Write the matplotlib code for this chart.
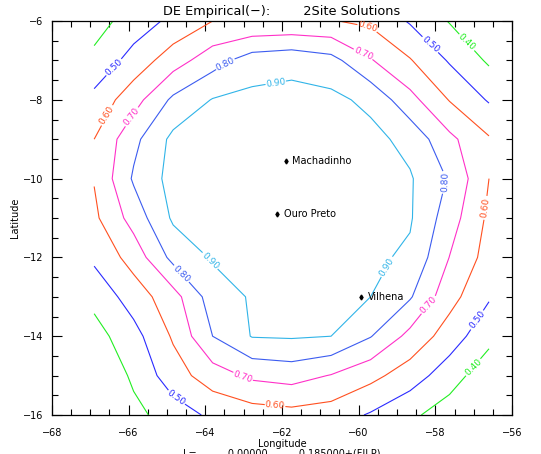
import numpy as np
import matplotlib
matplotlib.use('Agg')
import matplotlib.pyplot as plt
from matplotlib.ticker import MultipleLocator

# grid of the solution field
lons = np.linspace(-66.9, -56.6, 11)
lats = [-6, -7, -8, -9, -10, -11, -12, -13, -14, -15, -16]
values = [
    [0.36, 0.444, 0.525, 0.600, 0.605, 0.610, 0.605, 0.580, 0.490, 0.394, 0.330],
    [0.424, 0.540, 0.653, 0.758, 0.850, 0.870, 0.835, 0.708, 0.607, 0.490, 0.385],
    [0.530, 0.660, 0.820, 0.905, 0.925, 0.930, 0.925, 0.876, 0.733, 0.595, 0.490],
    [0.600, 0.773, 0.925, 0.935, 0.940, 0.945, 0.940, 0.930, 0.869, 0.724, 0.610],
    [0.605, 0.813, 0.935, 0.940, 0.950, 0.950, 0.945, 0.935, 0.910, 0.790, 0.600],
    [0.580, 0.740, 0.915, 0.930, 0.945, 0.950, 0.945, 0.935, 0.910, 0.747, 0.580],
    [0.520, 0.640, 0.830, 0.910, 0.930, 0.935, 0.930, 0.920, 0.883, 0.698, 0.560],
    [0.430, 0.547, 0.660, 0.850, 0.910, 0.920, 0.915, 0.900, 0.810, 0.636, 0.510],
    [0.360, 0.465, 0.612, 0.800, 0.905, 0.910, 0.900, 0.805, 0.671, 0.552, 0.430],
    [0.290, 0.420, 0.555, 0.652, 0.720, 0.740, 0.695, 0.629, 0.550, 0.446, 0.336],
    [0.270, 0.370, 0.450, 0.520, 0.550, 0.565, 0.550, 0.490, 0.420, 0.350, 0.290],
]
levels = [0.40, 0.50, 0.60, 0.70, 0.80, 0.90]
level_colors = ['#22ee22', '#2a2aff', '#ff5020', '#ff30c8', '#3c5cf0', '#30b4e8']

stations = ['Machadinho', 'Ouro Preto', 'Vilhena']
st_lon = [-61.90, -62.13, -59.94]
st_lat = [-9.55, -10.90, -13.00]

# where the contour labels sit
label_spots = [
    (-66.43, -7.12), (-66.57, -8.39), (-65.91, -8.44), (-63.49, -7.07),
    (-62.18, -7.42), (-59.78, -6.23), (-59.91, -6.91), (-58.14, -6.61),
    (-57.17, -6.53), (-57.67, -10.11), (-56.83, -10.72), (-58.97, -12.45),
    (-58.22, -13.16), (-56.91, -13.59), (-57.02, -14.78), (-62.18, -15.75),
    (-63.02, -15.04), (-64.79, -15.62), (-64.61, -12.40), (-63.93, -12.14),
]

fig = plt.figure(figsize=(5.41, 4.54), dpi=100)
ax = fig.add_axes([0.0961, 0.0859, 0.8503, 0.8678])

cs = ax.contour(lons, lats, np.array(values), levels=levels,
                colors=level_colors, linewidths=0.8)
ax.clabel(cs, fmt='%.2f', fontsize=6.5, inline=True, inline_spacing=2,
          manual=label_spots)

for name, x, y in zip(stations, st_lon, st_lat):
    ax.plot(x, y, marker='d', color='black', markersize=2.5)
    ax.text(x + 0.17, y, name, fontsize=7, va='center', ha='left')

ax.set_xlim(-68, -56)
ax.set_ylim(-16, -6)
ax.xaxis.set_major_locator(MultipleLocator(2))
ax.xaxis.set_minor_locator(MultipleLocator(0.5))
ax.yaxis.set_major_locator(MultipleLocator(2))
ax.yaxis.set_minor_locator(MultipleLocator(0.5))
ax.tick_params(which='both', direction='in', top=True, right=True,
               labelsize=7, width=0.8)
ax.tick_params(which='major', length=7)
ax.tick_params(which='minor', length=4)
ax.tick_params(axis='x', pad=9)
ax.tick_params(axis='y', pad=6)
for sp in ax.spines.values():
    sp.set_linewidth(0.9)

ax.set_xlabel('Longitude', fontsize=7, labelpad=1)
ax.set_ylabel('Latitude', fontsize=7, labelpad=2)
ax.set_title('DE Empirical(\u2212):        2Site Solutions', fontsize=9.3, pad=4)

# footer line, partly below the bottom edge as in the original
fig.text(0.521, 0.012, 'L=          0.00000          0.185000+(FILP)',
         fontsize=7, ha='center', va='top')

fig.savefig('out.png', dpi=100)
